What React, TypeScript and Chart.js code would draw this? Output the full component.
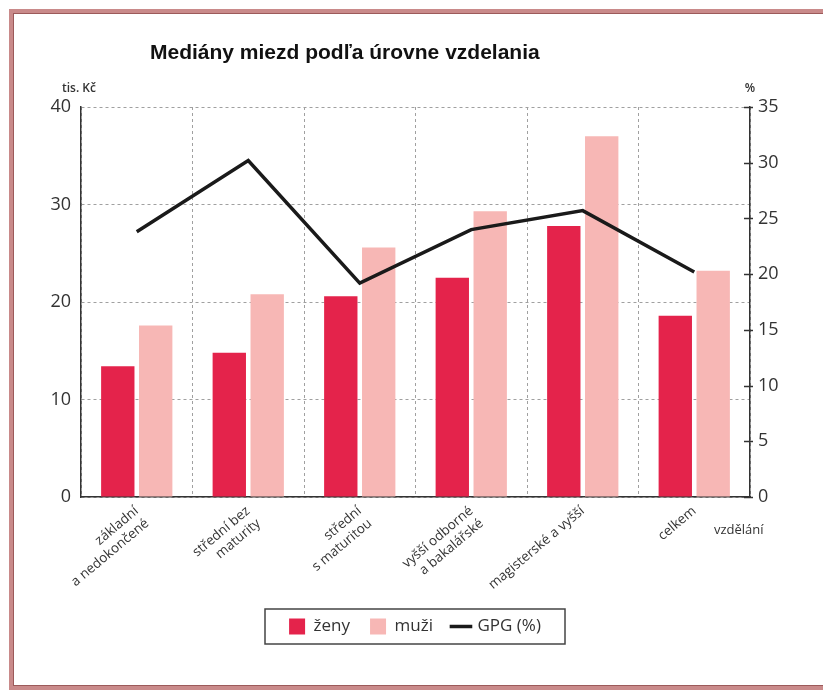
import React, { useEffect, useRef } from "react";
import { Chart, registerables } from "chart.js";

Chart.register(...registerables);

const categories: string[][] = [
  ["základní", "a nedokončené"],
  ["střední bez", "maturity"],
  ["střední", "s maturitou"],
  ["vyšší odborné", "a bakalářské"],
  ["magisterské a vyšší"],
  ["celkem"],
];
const zeny = [13.4, 14.8, 20.6, 22.5, 27.8, 18.6];
const muzi = [17.6, 20.8, 25.6, 29.3, 37.0, 23.2];
const gpg = [23.8, 30.2, 19.2, 24.0, 25.7, 20.2];

const titleText = "Mediány miezd podľa úrovne vzdelania";
const leftUnit = "tis. Kč";
const rightUnit = "%";
const xAxisName = "vzdělání";

const FONT = "'Open Sans', 'DejaVu Sans', sans-serif";
const TEXT = "#333333";

const extras = {
  id: "extras",
  afterDraw(chart: any) {
    const ctx = chart.ctx;
    const ca = chart.chartArea;
    ctx.save();
    // frame
    ctx.strokeStyle = "#c98a8a";
    ctx.lineWidth = 4;
    ctx.strokeRect(11, 11, 830, 677);
    ctx.strokeStyle = "#9c5a5a";
    ctx.lineWidth = 1;
    ctx.strokeRect(13.5, 13.5, 830, 672);
    // title
    ctx.fillStyle = "#111";
    ctx.font = "bold 21px 'Liberation Sans', Arial, sans-serif";
    ctx.textAlign = "left";
    ctx.textBaseline = "alphabetic";
    ctx.fillText(titleText, 150, 59);
    // unit labels
    ctx.fillStyle = TEXT;
    ctx.font = "600 12px " + FONT;
    ctx.textAlign = "left";
    ctx.fillText(leftUnit, 62, 92);
    ctx.textAlign = "center";
    ctx.fillText(rightUnit, 750, 92);
    ctx.textAlign = "left";
    ctx.font = "13px " + FONT;
    ctx.fillText(xAxisName, 714, 534);
    // right axis cross ticks
    const y1 = chart.scales.y1;
    ctx.strokeStyle = "#333";
    ctx.lineWidth = 1.5;
    y1.ticks.forEach((t: any) => {
      const py = Math.round(y1.getPixelForValue(t.value)) + 0.5;
      ctx.beginPath();
      ctx.moveTo(ca.right - 6, py);
      ctx.lineTo(ca.right + 3, py);
      ctx.stroke();
    });
    // legend border
    const lg = chart.legend;
    if (lg && lg.legendHitBoxes && lg.legendHitBoxes.length) {
      const hb = lg.legendHitBoxes[0];
      const cy = hb.top + hb.height / 2;
      ctx.strokeStyle = "#444";
      ctx.lineWidth = 1.5;
      const w = 300;
      const h = 35;
      const cx = (lg.left + lg.right) / 2;
      ctx.strokeRect(cx - w / 2, cy - h / 2, w, h);
    }
    ctx.restore();
  },
};

export default function App() {
  const ref = useRef<HTMLCanvasElement>(null);
  useEffect(() => {
    if (!ref.current) return;
    const chart = new Chart(ref.current, {
      type: "bar",
      data: {
        labels: categories as any,
        datasets: [
          {
            label: "ženy",
            data: zeny,
            backgroundColor: "#e4234b",
            borderWidth: 0,
            yAxisID: "y",
            order: 1,
            pointStyle: "rect",
            barPercentage: 0.88,
            categoryPercentage: 0.68,
          } as any,
          {
            label: "muži",
            data: muzi,
            backgroundColor: "#f7b7b5",
            borderWidth: 0,
            yAxisID: "y",
            order: 1,
            pointStyle: "rect",
            barPercentage: 0.88,
            categoryPercentage: 0.68,
          } as any,
          {
            type: "line",
            label: "GPG (%)",
            data: gpg,
            borderColor: "#1a1a1a",
            backgroundColor: "#1a1a1a",
            borderWidth: 3.5,
            pointRadius: 0,
            tension: 0,
            yAxisID: "y1",
            order: 0,
            pointStyle: "line",
          } as any,
        ],
      },
      plugins: [extras],
      options: {
        responsive: false,
        animation: false,
        layout: { padding: { left: 20, right: 13, top: 107, bottom: 48 } },
        plugins: {
          title: { display: false },
          tooltip: { enabled: false },
          legend: {
            position: "bottom",
            labels: {
              usePointStyle: true,
              boxWidth: 16,
              boxHeight: 16,
              padding: 20,
              color: TEXT,
              font: { family: FONT, size: 17 },
              sort: (a: any, b: any) => a.datasetIndex - b.datasetIndex,
            },
          },
        },
        scales: {
          x: {
            offset: true,
            grid: {
              offset: true,
              color: "#a0a0a0",
              lineWidth: 1,
              drawTicks: false,
            },
            border: { display: true, color: "#333", width: 1.5, dash: [3, 3] },
            ticks: {
              maxRotation: 40,
              minRotation: 40,
              padding: 6,
              color: TEXT,
              font: { family: FONT, size: 13.5 },
              lineHeight: 1.1,
            },
            afterFit: (s: any) => {
              s.height = 101;
            },
          },
          y: {
            position: "left",
            min: 0,
            max: 40,
            ticks: {
              stepSize: 10,
              color: TEXT,
              padding: 10,
              font: { family: FONT, size: 18 },
            },
            grid: { color: "#a0a0a0", drawTicks: false },
            border: { display: true, color: "#333", width: 1.5, dash: [3, 3] },
            afterFit: (s: any) => {
              s.width = 61;
            },
          },
          y1: {
            position: "right",
            min: 0,
            max: 35,
            ticks: {
              stepSize: 5,
              color: TEXT,
              padding: 8,
              font: { family: FONT, size: 18 },
            },
            grid: { drawOnChartArea: false, drawTicks: false },
            border: { display: true, color: "#333", width: 1.5 },
            afterFit: (s: any) => {
              s.width = 60;
            },
          },
        },
      },
    } as any);
    return () => chart.destroy();
  }, []);
  return (
    <div style={{ position: "fixed", left: 0, top: 0, width: 823, height: 693, background: "#fff" }}>
      <canvas ref={ref} width={823} height={693} />
    </div>
  );
}
